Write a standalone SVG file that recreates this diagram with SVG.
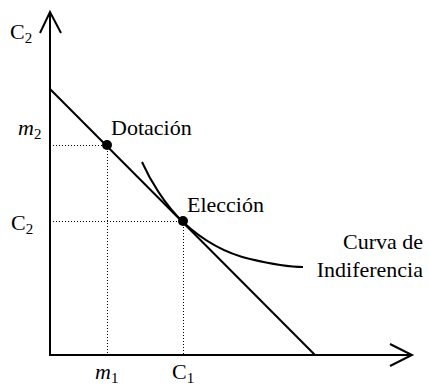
<svg xmlns="http://www.w3.org/2000/svg" width="429" height="387" viewBox="0 0 429 387">
<style>
.ax{stroke:#000;stroke-width:2;fill:none}
.ln{stroke:#000;stroke-width:2;fill:none}
.dot{stroke:#000;stroke-width:1;stroke-dasharray:1,2;fill:none}
text{font-size:22px;fill:#000}
.sub{font-size:15px}
.it{font-style:italic}
</style>
<rect width="429" height="387" fill="#fff"/>
<g id="connectors">
<path class="ax" d="M50,12 V355 H412"/>
<path class="ax" d="M40,33 L50,12 L61,33"/>
<path class="ax" d="M390,344 L412,355 L390,366"/>
<path class="ln" d="M50,89 L315,355"/>
<path class="dot" d="M50,145.5 H107 M107.5,145 V355 M50,221.5 H183 M183.5,221 V355"/>
<path class="ln" d="M142,162 C150,180 165,205 183,222 C198,236 220,252 250,259 C270,263.7 290,267 303,267"/>
</g>
<g font-family="Liberation Serif, Times New Roman, DejaVu Serif, serif">
<g id="axis-labels">
<text x="10" y="39">C<tspan class="sub" dy="4">2</tspan></text>
<text x="18" y="135" class="it">m<tspan class="sub" dy="4" font-style="normal">2</tspan></text>
<text x="11" y="230">C<tspan class="sub" dy="4">2</tspan></text>
<text x="95" y="379" class="it">m<tspan class="sub" dy="4" font-style="normal">1</tspan></text>
<text x="172" y="379">C<tspan class="sub" dy="4">1</tspan></text>
</g>
<g id="dotacion">
<circle cx="107" cy="145" r="5"/>
<text x="111" y="135">Dotación</text>
</g>
<g id="eleccion">
<circle cx="183" cy="221" r="5"/>
<text x="187" y="212">Elección</text>
</g>
<g id="curva-label">
<text x="423" y="249" text-anchor="end">Curva de</text>
<text x="423" y="277" text-anchor="end">Indiferencia</text>
</g>
</g>
</svg>
